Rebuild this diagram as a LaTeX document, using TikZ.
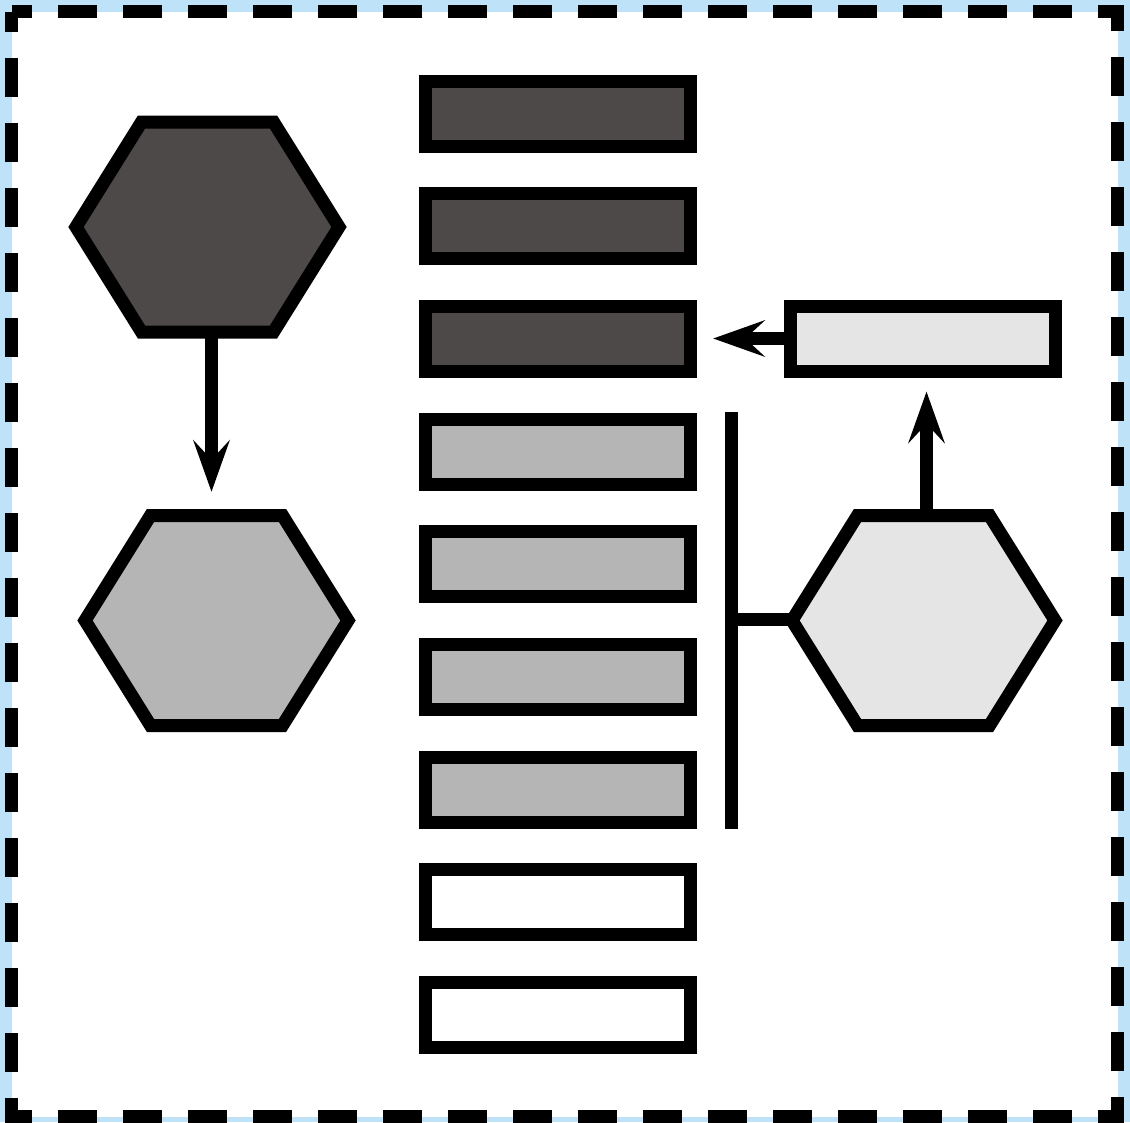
\documentclass[tikz,border=0pt]{standalone}
\usetikzlibrary{arrows.meta}
\definecolor{bgblue}{RGB}{190,227,248}
\definecolor{darkfill}{RGB}{77,73,72}
\definecolor{midfill}{RGB}{180,181,180}
\definecolor{lightfill}{RGB}{229,229,229}
\begin{document}
\begin{tikzpicture}[x=1pt,y=-1pt,line width=13pt,
  box/.style={draw=black,rectangle,minimum width=265pt,minimum height=65pt,inner sep=0pt},
  hexa/.style={draw=black,line join=miter},
  arr/.style={-{Stealth[length=52pt,width=37pt,inset=20pt,line width=0pt]}},
  frame/.style={draw=black,fill=white,line join=miter,dash pattern=on 39pt off 26pt,dash phase=18.5pt}]
% background and frame
\fill[bgblue] (0,0) rectangle (1130,1122);
\useasboundingbox (0,0) rectangle (1130,1122);
\path[frame] (11.5,11.5) rectangle (1117.5,1116.5);
% column of boxes
\node[box,fill=darkfill] (r1) at (557.5,113.5) {};
\node[box,fill=darkfill] (r2) at (557.5,226.2) {};
\node[box,fill=darkfill] (r3) at (557.5,338.9) {};
\node[box,fill=midfill] (r4) at (557.5,451.6) {};
\node[box,fill=midfill] (r5) at (557.5,564.3) {};
\node[box,fill=midfill] (r6) at (557.5,677.0) {};
\node[box,fill=midfill] (r7) at (557.5,789.7) {};
\node[box,fill=white] (r8) at (557.5,902.4) {};
\node[box,fill=white] (r9) at (557.5,1015.1) {};
% right box
\node[box,fill=lightfill] (rr) at (922.5,338.5) {};
% coordinates
\coordinate (h1b) at (211.5,332);
\coordinate (a1e) at (211.5,491.7);
\coordinate (h3t) at (926.5,515.5);
\coordinate (a2e) at (926.5,391.7);
\coordinate (a3e) at (713.3,338.5);
\coordinate (vtop) at (731.5,412);
\coordinate (vbot) at (731.5,829);
\coordinate (vmid) at (731.5,619);
\coordinate (h3l) at (792,619);
% connectors
\draw[arr] (h1b) -- (a1e);
\draw[arr] (h3t) -- (a2e);
\draw[arr] (rr.west) -- (a3e);
\draw (vtop) -- (vbot);
\draw (vmid) -- (h3l);
% hexagons
\draw[hexa,fill=darkfill] (76,227) -- (141.5,122) -- (273.5,122) -- (339,227) -- (273.5,332) -- (141.5,332) -- cycle;
\draw[hexa,fill=midfill] (85,620.5) -- (150.5,515.5) -- (282.5,515.5) -- (348,620.5) -- (282.5,725.5) -- (150.5,725.5) -- cycle;
\draw[hexa,fill=lightfill] (792,620.5) -- (857.5,515.5) -- (989.5,515.5) -- (1055,620.5) -- (989.5,725.5) -- (857.5,725.5) -- cycle;
\end{tikzpicture}
\end{document}
